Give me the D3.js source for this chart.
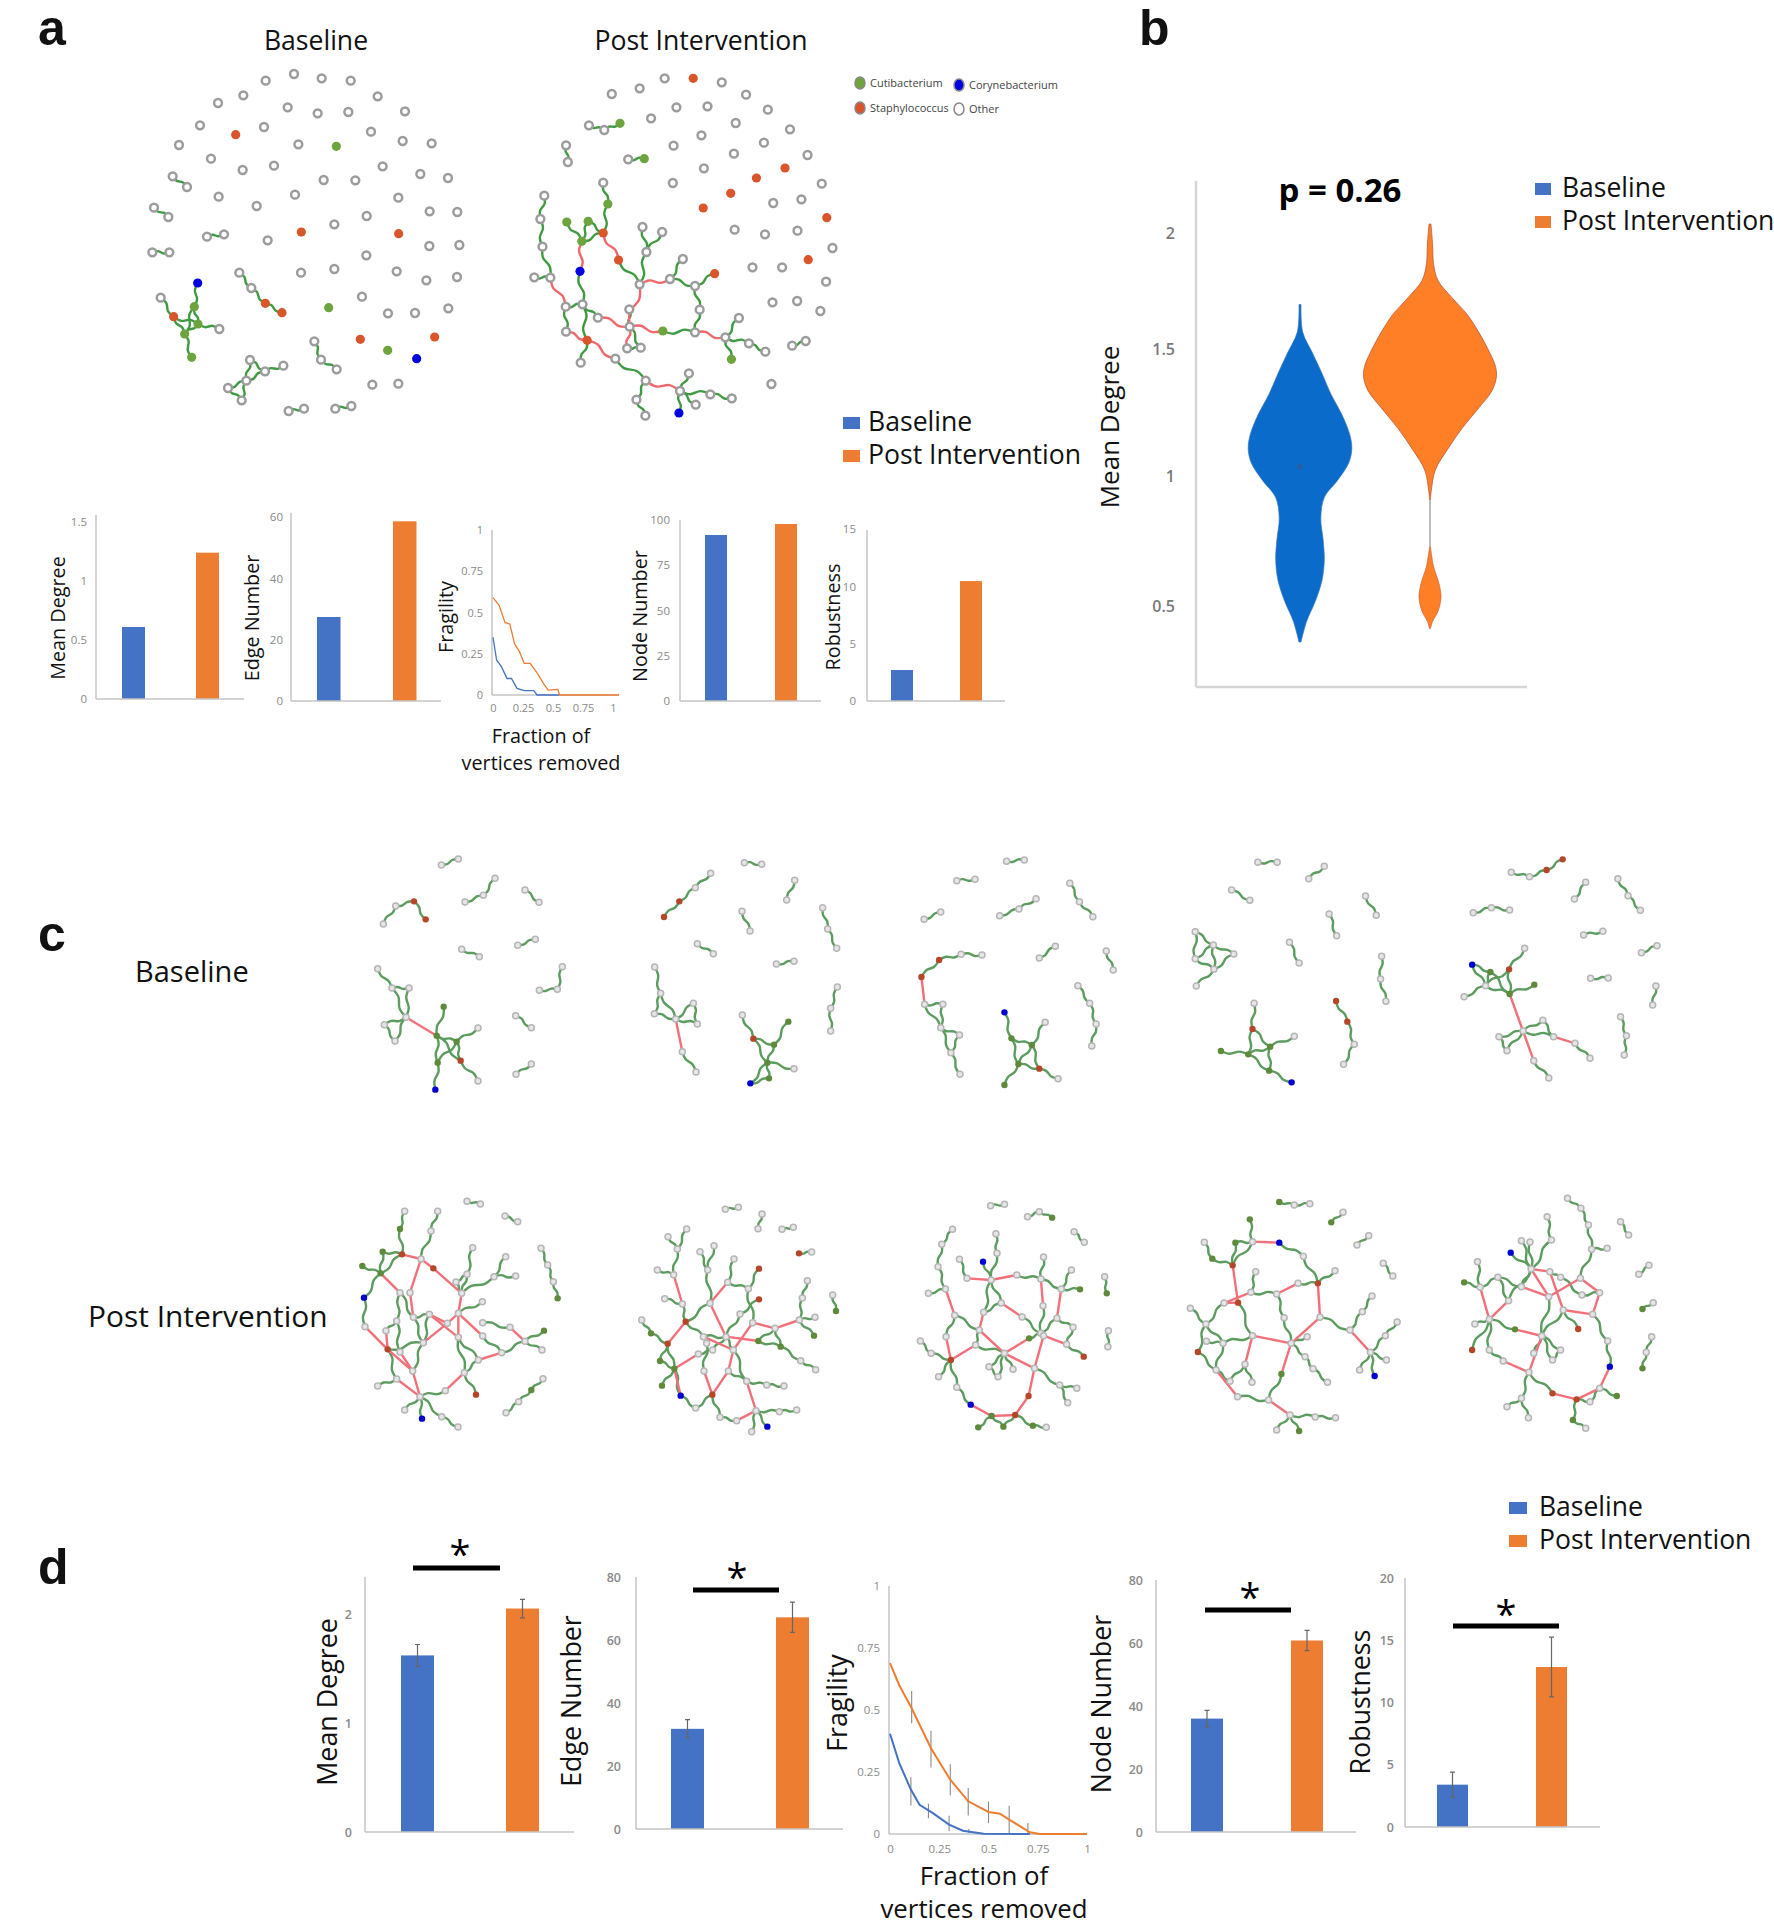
<!DOCTYPE html>
<html><head><meta charset="utf-8">
<script src="https://cdn.jsdelivr.net/npm/d3@7"></script>
<style>html,body{margin:0;background:#fff}svg{display:block}text{font-family:"Open Sans",sans-serif;fill:#111}</style>
</head><body><div id="chart"></div>
<script>
// ---------- DATA ----------
const seriesNames = ["Baseline","Post Intervention"];
const speciesNames = ["Cutibacterium","Corynebacterium","Staphylococcus","Other"];
// panel a bars
const aMeanDegree=[0.61,1.24], aEdgeNumber=[27.4,58.6], aNodeNumber=[91.7,97.8], aRobustness=[2.7,10.46];
const aMeanTicks=[0,0.5,1,1.5], aEdgeTicks=[0,20,40,60], aNodeTicks=[0,25,50,75,100], aRobustTicks=[0,5,10,15];
const fragTicks=[0,0.25,0.5,0.75,1];
const aFragBaseline=[[0,.35],[.03,.212],[.07,.172],[.117,.1],[.154,.1],[.2,.04],[.26,.026],[.34,.026],[.367,0],[.55,0]];
const aFragPost=[[0,.59],[.05,.545],[.10,.44],[.14,.43],[.18,.31],[.22,.263],[.26,.192],[.31,.192],[.37,.131],[.42,.07],[.46,.03],[.54,.034],[.555,0],[1.05,0]];
// panel b violins: [value, half width]
const violinTicks=[0.5,1,1.5,2];
const violinBaseline=[[1.692,1],[1.573,2.7],[1.485,12.4],[1.404,22],[1.322,31],[1.241,42],[1.16,50],[1.106,51.8],[1.052,48.7],[.984,37.6],[.918,24.3],[.838,20.8],[.759,23],[.68,24.3],[.6,22],[.521,15.5],[.442,6.6],[.363,1]];
const violinPostUpper=[[2.04,1],[1.945,2.7],[1.87,3.5],[1.796,8],[1.722,22],[1.647,37.6],[1.573,48.7],[1.485,59.8],[1.431,65.5],[1.39,66.4],[1.336,62],[1.268,48.7],[1.187,31.9],[1.106,17.7],[1.024,5.3],[.944,1.3],[.91,.5]];
const violinPostLower=[[.726,.5],[.654,3.5],[.587,9],[.535,11],[.481,8],[.442,2.6],[.415,.5]];
const violinMedian=1.037;
// panel d bars: mean, error
const dMeanDegree=[1.62,2.05], dMeanErr=[.1,.085];
const dEdgeNumber=[31.8,67.2], dEdgeErr=[2.9,4.8];
const dNodeNumber=[36,60.8], dNodeErr=[2.6,3.2];
const dRobustness=[3.4,12.85], dRobustErr=[1,2.4];
const dMeanTicks=[0,1,2], dEdgeTicks=[0,20,40,60,80], dNodeTicks=[0,20,40,60,80], dRobustTicks=[0,5,10,15,20];
const dFragBaseline=[[0,.404],[.047,.286],[.106,.179],[.15,.118],[.216,.085],[.3,.038],[.37,.013],[.475,.001],[.71,0]];
const dFragPost=[[0,.689],[.047,.6],[.11,.507],[.208,.346],[.306,.219],[.397,.132],[.5,.089],[.558,.082],[.605,.058],[.71,.007],[.76,0],[1,0]];
const dFragBaselineErr=[[.106,.115,.229],[.195,.064,.122],[.3,.011,.074],[.4,.004,.02]];
const dFragPostErr=[[.11,.447,.577],[.208,.268,.416],[.306,.155,.281],[.397,.075,.185],[.5,.044,.131],[.605,.004,.114],[.7,0,.044]];

// networks: "x,y" node readings, suffix r/g/b = genus; chains are consecutive edges
const a1Lone="407,122 492,102 575,115 662,122 340,166 264,189 743,169 473,202 563,220 655,216 825,214 210,256 402,261 723,275 147,315 505,313 818,303 905,310 243,356 338,390 432,377 758,379 871,402 954,414 581,420 676,421 266,470 380,498 495,464 805,473 899,514 982,516 710,528 613,553 413,601 898,618 988,615 709,646 513,698 613,687 800,694 889,721 981,711 696,770 774,820 855,819 955,805 727,1034 805,1031 317,284r 514,576r 806,581r 691,898r 914,891r 619,319g 596,803g 773,931g 860,956b".split(" ");
const a1Links=["128,409 171,441","72,503 115,531","231,590 282,583","67,637 118,637","328,698 364,744 406,790r 456,818r","553,904 573,959 620,988","476,1113 522,1106","616,1106 664,1098","92,773 131,830r 164,882g 185,952g","131,830 204,852g 268,867","203,729b 193,800g 204,852","193,800 164,882 204,852","360,960 405,994 460,977","360,960 349,1022 294,1044 335,1081 349,1022 405,994"];
const a1Bridges=[];

const a2Lone="405,115 565,127 633,164 335,145 257,162 438,202 525,199 694,209 367,235 604,249 756,268 508,286 683,308 430,317 599,341 805,345 515,385 428,429 845,431 709,489 788,478 601,569 686,583 777,572 875,624 651,682 734,682 857,725 707,787 776,783 841,813 704,1032 485,115r 742,384r 662,414r 590,460r 513,504r 859,533r 807,659r".split(" ");
const a2Links=["762,917 800,903","193,256 236,270 280,250g","129,316 134,366","303,358 348,356g","233,428 246,492g 233,579r","131,546g 173,604g 191,544g 233,579 173,604","276,660r 335,733","343,561 354,636 335,733","398,576 354,636","420,717 456,657","420,717 490,738 545,701r","490,738 503,809 490,877 400,873g","306,808 307,860","218,833 175,793 128,800","168,694b 175,793","40,712 85,713 63,620 57,537 68,467","128,800 129,875","175,793 188,901r 170,968","307,860 338,923 300,925","575,892 613,834","575,892 641,910 687,935","575,892 592,958g","267,956 352,1022 326,1079 351,1127","448,1053 473,1000","448,1053 445,1119b","448,1053 492,1094","448,1053 533,1063 593,1075"];
const a2Bridges=["173,604 168,694","233,579 276,660","335,733 420,717","400,873 307,860 335,733","307,860 218,833","85,713 128,800","129,875 188,901 267,956","307,860 300,925","490,877 575,892","352,1022 448,1053"];

const c1Links=["304,75 355,57","375,186 430,166 465,115","555,150 597,187","130,252 167,198 222,184r 257,238r","365,328 418,350","533,316 586,298","667,380 652,448 598,451","527,527 574,563","528,703 574,672","113,386 156,444 207,444 198,532 156,444","198,532 133,554 165,603 198,532","311,500g 290,587g 350,605g 414,564","290,587 293,668g 286,749b","290,587 362,662r 414,723","350,605 293,668","350,605 362,662"];
const c1Bridges=["198,532 290,587"];
const c2Links=["213,68 265,73","364,121 340,180","-28,231r 18,184r 66,143 112,100","206,214 230,273","448,203 463,267 490,325","72,311 120,341","309,372 362,364","-56,381 -38,460 -57,521 7,537 -38,460","7,537 60,490 72,552 7,537","27,635 68,696","207,525 240,596r 302,614g 345,545g","240,596 282,668g 362,686","302,614 282,668 287,715g 231,730b 282,668","492,441 472,505 472,573"];
const c2Bridges=["7,537 27,635"];
const c3Links=["311,64 344,60","218,122 252,118","157,238 188,216","298,227 334,207 366,176","429,130 447,185 472,230","265,345 226,343 185,360r 152,411r","158,493 192,493 188,563 158,493","188,563 223,585 207,638 188,563","207,638 224,703","372,354 402,319","497,333 510,390","444,437 466,490 478,552 470,618","307,517b 320,595g 358,615g 383,547","320,595 333,672g 358,615 372,686r 333,672 307,735g","372,686 407,716"];
const c3Bridges=["152,411 158,493"];
const c4Links=["780,67 816,67","875,116 904,79","731,150 765,181","981,168 1001,226","913,222 927,287","839,307 857,369","1011,349 1009,417 1019,484","663,275 697,315 663,356 663,275","697,315 735,342 698,388 697,315","663,356 698,388 665,438","926,483r 947,545r 960,613 940,673","773,490 770,567r 762,643g 803,620g 770,567","803,620 848,589","803,620 801,692g 762,643 711,633g","801,692 843,727b"];
const c4Bridges=[];
const c5Links=["1253,97 1287,110 1319,90r 1349,58r","1392,127 1371,177","1452,116 1471,167 1494,211","1182,218 1216,203 1250,210","1388,285 1424,274","1496,338 1525,317","1401,415 1434,414","1523,438 1517,495","1457,530 1468,587 1464,645","1180,374b 1214,396g 1205,437 1180,374","1214,396 1250,462g 1205,437 1165,470","1278,325 1249,388r 1250,462 1296,434g","1249,388 1205,437","1295,662 1323,714","1275,573 1230,590 1245,632 1275,573 1312,541 1332,590 1275,573","1372,610 1400,655"];
const c5Bridges=["1250,462 1275,573 1295,662","1332,590 1372,610"];

const p1Links=["381,64 421,72","495,108 533,125","603,205 623,255 640,305 653,355g","498,698 536,665 574,630g 609,596","194,94 180,147g 186,223r 128,215g 122,280g 186,223","67,258g 122,280 72,353b 75,440","293,94 273,153 243,237","398,203 381,283 348,306 365,340 381,283","497,230 462,290 527,288","462,290 365,340","355,400 427,365","180,338 220,412 268,403","180,338 170,423 138,452","428,428 510,442","612,452g 555,484 606,510","555,484 485,518 428,468","415,540 355,472 373,578 415,540","373,578 408,644r","170,423 180,516","143,508r 250,488 218,573","143,508 170,597 113,618","250,488 268,403","240,650 194,690","240,650 246,716b","240,650 305,710 354,741","240,650 316,632","220,412 250,488"];
const p1Bridges=["186,223 243,237 280,265r 365,340 355,400 322,430 250,488","243,237 210,338 220,412","122,280 180,338","268,403 355,472 355,400","355,400 428,468","510,442 555,484","485,518 415,540","373,578 316,632","75,440 143,508 138,452","180,516 218,573 240,650 170,597","143,508 218,573","322,430 268,403"];

const p2Links=["156,88 195,82","266,102 254,146","326,148 360,142","377,220r 415,216","478,345 488,393g","-16,170 12,207 1,284 -48,270","40,147 12,207","-26,356 27,372 37,425r","-95,420 -67,460g -17,491r -40,543g 3,566g -34,617g","-17,491 3,566 22,647b 67,684 117,644r 140,712 190,722","248,692 235,755","248,692 282,740b","248,692 318,695 370,690","80,215 103,270 110,370 37,425","122,197 103,270","182,237 163,307 225,326 257,266r","225,326 238,428","257,358r 200,402 158,470","402,302 387,354 378,420 425,412","378,420 422,467g","305,445 255,483g 322,500g 305,445","322,500 382,542 427,569","158,470 180,510 220,604 280,615 332,618","158,470 90,470 37,425","118,510 158,470","75,522 118,510","92,573 100,490","165,573 220,604"];
const p2Bridges=["1,284 27,372","37,425 -17,491","3,566 22,647","3,566 75,522","117,644 92,573","117,644 165,573 180,510","190,722 248,692 220,604","110,370 163,307","110,370 158,470 255,483","238,428 180,510","238,428 305,445 378,420","90,470 180,510"];

const p3Links=["281,77 307,73","350,110 372,95 396,113g","437,155 456,187","494,290 498,340g","501,452 500,500","210,148 190,193 183,260 197,327 165,340","223,238 237,295","267,245b 282,300 293,220 291,161","330,285 375,297 380,231","375,297 413,327 432,270","413,327 448,328g","282,300 301,369","282,300 268,397 301,369","340,411 375,460 379,377","405,415 375,460","405,415 435,442 423,493 455,530r","214,406 198,470","214,406 260,450","150,483 170,520 207,540r 184,590","207,540 218,622 244,674b","260,450 253,495 307,520","307,520 278,560 295,590 307,520 323,568","353,475g 375,460","363,565 410,615 442,625","410,615 425,668","283,708g 258,742g","283,708 305,740g 327,705r","327,705 360,737g 385,742"];
const p3Bridges=["197,327 214,406","237,295 282,300 330,285","375,297 379,377","413,327 405,415","198,470 207,540 253,495","268,397 260,450 307,520 363,565 380,467 423,493","301,369 340,411","307,520 353,475","363,565 352,648r 327,705 283,708 244,674"];

const p4Links=["820,66g 848,75 877,71","917,127g 939,97","965,195 987,167","1014,250 1032,288","765,118g 770,185 738,188g 733,256r 695,236g 680,187","770,185 733,256","820,188b 865,229 892,310r 924,272","855,310 892,310","776,275 767,337 815,342 829,413 842,490","743,368r 770,467","717,369 683,432 654,385","683,432 668,516r 702,570 715,490 684,484","683,432 715,490 770,467","756,553 728,604 702,570","756,553 769,607","896,412 952,450 975,395 993,348","990,517 1018,467 1040,426","990,517 1020,540","990,517 970,570","990,517 998,588b","842,490 872,470","842,490 868,530 883,566 910,607","824,582g 800,660 742,650","840,705 815,750","840,705 857,753g","840,705 887,711 925,713"];
const p4Bridges=["770,185 820,188","733,256 743,368 717,369 767,337","815,342 855,310","770,467 842,490 824,582","770,467 756,553","892,310 896,412 842,490","952,450 990,517","702,570 742,650","800,660 840,705"];

const p5Links=["1358,55 1383,85 1397,135 1403,208 1382,295","1432,205 1403,208","1457,125 1472,165","1491,283 1510,256","1498,387g 1518,368","1515,470 1505,517 1498,565g","1320,110 1328,180 1290,267","1252,218b 1290,267 1272,182","1288,186 1290,267 1272,320","1325,275 1345,292 1385,345 1418,338","1190,245 1195,322 1165,307g","1195,322 1228,292 1272,320","1248,362 1228,292","1290,267 1248,362","1212,418 1185,432","1212,418 1260,448g","1212,418 1180,510r","1212,418 1212,510 1238,543","1310,468 1323,350","1310,468 1350,390 1378,447r","1310,468 1295,520","1310,468 1345,510 1330,540 1310,468","1405,403 1433,483 1437,560b","1286,577 1272,655 1245,680","1272,655 1285,713","1418,625 1450,648g","1375,658r 1400,665 1418,625","1375,658 1368,720g 1392,745","1330,640r 1286,577"];
const p5Bridges=["1290,267 1325,275 1350,390 1405,403 1418,338 1382,295 1323,350 1290,267","1272,320 1323,350","1195,322 1212,418 1248,362","1260,448 1310,468 1286,577 1238,543","1437,560 1418,625 1375,658 1330,640"];

// ---------- LAYOUT ----------
const W=1774,H=1926;
const blue="#4472c4", orange="#ed7d31";
const svg=d3.select("#chart").append("svg").attr("width",W).attr("height",H).attr("viewBox",[0,0,W,H]);
const defs=svg.append("defs");
defs.append("filter").attr("id","soft").attr("x","-5%").attr("y","-5%").attr("width","110%").attr("height","110%").append("feGaussianBlur").attr("stdDeviation",.6);
defs.append("filter").attr("id","soft2").attr("x","-5%").attr("y","-5%").attr("width","110%").attr("height","110%").append("feGaussianBlur").attr("stdDeviation",.75);

function text(x,y,s,size,o={}){
  const t=svg.append("text").attr("x",x).attr("y",y).attr("font-size",size).text(s);
  if(o.anchor)t.attr("text-anchor",o.anchor);
  if(o.weight)t.attr("font-weight",o.weight);
  if(o.fill)t.style("fill",o.fill);
  if(o.family)t.style("font-family",o.family);
  return t;
}
function vtext(x,y,s,size){
  return svg.append("text").attr("transform",`translate(${x},${y}) rotate(-90)`).attr("text-anchor","middle")
    .attr("dominant-baseline","central").attr("font-size",size).text(s);
}
function axisLine(x1,y1,x2,y2,c="#c4c4c4",w=1.5){
  svg.append("line").attr("x1",x1).attr("y1",y1).attr("x2",x2).attr("y2",y2).attr("stroke",c).attr("stroke-width",w);
}
function styleAxis(g,size,fill,weight){
  g.select(".domain").remove();
  g.selectAll("text").attr("font-size",size).attr("font-family",'"Open Sans",sans-serif').style("fill",fill).attr("font-weight",weight||400);
}

// --- networks
const nodeStyles={
  big:{link:"#3f9a42",bridge:"#f0686c",lw:2.4,r:3.9,rc:4.6,ring:"#9c9c9c",rw:2.5,o:"#fff",r_:"#d9542b",g:"#6ea43c",b:"#0000e0",k:.07,filter:"url(#soft)"},
  small:{link:"#5b9c5e",bridge:"#f2707a",lw:2.4,r:3,rc:3.2,ring:"#b6b6b6",rw:1.5,o:"#e6e6e6",r_:"#b4472a",g:"#5f8a3a",b:"#0000d0",k:.06,filter:"url(#soft2)"}
};
function drawNet(lone,links,bridges,ox,oy,cropW,cropH,domW,style,straight){
  const sx=d3.scaleLinear([0,domW],[ox,ox+cropW]), sy=d3.scaleLinear([0,cropH*3],[oy,oy+cropH]);
  const st=nodeStyles[style], nodes=new Map(), edges=[];
  const tok=s=>{const m=s.match(/(-?\d+),(-?\d+)([rgb]?)/),k=m[1]+","+m[2];
    const n=nodes.get(k)||{x:+m[1],y:+m[2],t:"o"}; if(m[3])n.t=m[3]; nodes.set(k,n); return n;};
  lone.forEach(tok);
  const add=(arr,kind)=>arr.forEach(ch=>{const ts=ch.split(" ").map(tok);
    d3.pairs(ts).forEach(([a,b])=>edges.push({a,b,kind}));});
  add(links,"link"); add(bridges,"bridge");
  const line=d3.line().curve(d3.curveCatmullRom.alpha(.5));
  const path=e=>{
    const x1=sx(e.a.x),y1=sy(e.a.y),x2=sx(e.b.x),y2=sy(e.b.y),dx=x2-x1,dy=y2-y1;
    if(e.kind==="bridge"&&straight) return line([[x1,y1],[x2,y2]]);
    const sgn=((Math.abs(e.a.x)+Math.abs(e.b.y))%2)?1:-1, k=st.k*sgn;
    return line([[x1,y1],[x1+dx/3-dy*k,y1+dy/3+dx*k],[x1+2*dx/3+dy*k,y1+2*dy/3-dx*k],[x2,y2]]);
  };
  const g=svg.append("g").attr("filter",st.filter);
  g.selectAll("path").data(edges).join("path").attr("d",path).attr("fill","none")
    .attr("stroke",d=>d.kind==="bridge"?st.bridge:st.link).attr("stroke-width",st.lw);
  g.selectAll("circle").data([...nodes.values()]).join("circle").attr("cx",d=>sx(d.x)).attr("cy",d=>sy(d.y)).attr("r",d=>d.t==="o"?st.r:st.rc)
    .attr("fill",d=>({o:st.o,r:st.r_,g:st.g,b:st.b})[d.t]).attr("stroke",d=>d.t==="o"?st.ring:"none").attr("stroke-width",st.rw);
}
drawNet(a1Lone,a1Links,a1Bridges,130,40,400,400,1200,"big",false);
drawNet(a2Lone,a2Links,a2Bridges,520,40,560,400,1568,"big",false);
drawNet([],c1Links,c1Bridges,340,840,500,280,1500,"small",true);
drawNet([],c2Links,c2Bridges,340+1000/3,840,500,280,1500,"small",true);
drawNet([],c3Links,c3Bridges,840,840,840,280,1568,"small",true);
drawNet([],c4Links,c4Bridges,840,840,840,280,1568,"small",true);
drawNet([],c5Links,c5Bridges,840,840,840,280,1568,"small",true);
drawNet([],p1Links,p1Bridges,340,1180,500,270,1500,"small",true);
drawNet([],p2Links,p2Bridges,340+1000/3,1180,500,270,1500,"small",true);
drawNet([],p3Links,p3Bridges,840,1180,840,270,1568,"small",true);
drawNet([],p4Links,p4Bridges,840,1180,840,270,1568,"small",true);
drawNet([],p5Links,p5Bridges,840,1180,840,270,1568,"small",true);

// --- network legend
const legendSp=[[860,83,"#6ea43c"],[959,85,"#0000e0"],[860,108,"#d9542b"],[959,109,"#fff"]];
legendSp.forEach((d,i)=>{
  svg.append("ellipse").attr("cx",d[0]).attr("cy",d[1]).attr("rx",5).attr("ry",6).attr("fill",d[2]).attr("stroke","#888").attr("stroke-width",1.5);
  text(d[0]+10,d[1]+4,speciesNames[i],11,{fill:"#444"});
});

// --- legends
function legend(x,y1,y2,tx,size,rw,rh){
  [y1,y2].forEach((y,i)=>{
    svg.append("rect").attr("x",x).attr("y",y-rh).attr("width",rw).attr("height",rh).attr("fill",i?orange:blue);
    text(tx,y+2,seriesNames[i],size);
  });
}
legend(843,429,462,868,26.6,17,12);
legend(1535,195,228,1562,26.5,16,12);
legend(1509,1514,1547,1539,26.5,18,12);

// --- titles and letters
text(316,50,"Baseline",26.6,{anchor:"middle"});
text(701,50,"Post Intervention",26.6,{anchor:"middle"});
const letterFont='"Liberation Sans",sans-serif';
text(38,45,"a",50,{weight:700,family:letterFont});
text(1139,45,"b",50,{weight:700,family:letterFont});
text(38,951,"c",50,{weight:700,family:letterFont});
text(38,1584,"d",50,{weight:700,family:letterFont});
text(135,982,"Baseline",29);
text(88,1327,"Post Intervention",29.9);

// --- bar charts
function bars(cfg){
  const y=d3.scaleLinear([0,cfg.tickMax],[cfg.base,cfg.tickTop]);
  const g=svg.append("g");
  g.selectAll("rect").data(cfg.values).join("rect").attr("x",(d,i)=>cfg.bx[i]).attr("width",cfg.bw)
    .attr("y",d=>y(d)).attr("height",d=>cfg.base-y(d)).attr("fill",(d,i)=>i?orange:blue);
  if(cfg.err) g.selectAll("path").data(cfg.values).join("path").attr("fill","none").attr("stroke","#666").attr("stroke-width",1.2)
    .attr("d",(d,i)=>{const c=cfg.bx[i]+cfg.bw/2,e=cfg.err[i];return `M${c-2.5},${y(d+e)}H${c+2.5}M${c},${y(d+e)}V${y(d-e)}M${c-2.5},${y(d-e)}H${c+2.5}`;});
  axisLine(cfg.ax,cfg.top,cfg.ax,cfg.base);
  axisLine(cfg.ax,cfg.base,cfg.xEnd,cfg.base);
  const ax=svg.append("g").attr("transform",`translate(${cfg.ax},0)`)
    .call(d3.axisLeft(y).tickValues(cfg.ticks).tickSize(0).tickPadding(cfg.pad).tickFormat(d=>d));
  styleAxis(ax,cfg.fs,"#8a8a8a",cfg.fw);
  vtext(cfg.lx,cfg.ly,cfg.label,cfg.ls);
  if(cfg.sig){
    svg.append("rect").attr("x",cfg.sig[0]).attr("y",cfg.sig[2]-2.5).attr("width",cfg.sig[1]-cfg.sig[0]).attr("height",5).attr("fill","#000");
    text(cfg.star[0],cfg.star[1]+20,"*",38,{anchor:"middle",fill:"#000"});
  }
}
const bfs=11.5;
bars({values:aMeanDegree,ticks:aMeanTicks,tickMax:1.5,base:699,tickTop:522,top:515,ax:96,xEnd:244,bx:[122,196],bw:23,pad:9,fs:bfs,label:"Mean Degree",lx:57,ly:618,ls:19.8});
bars({values:aEdgeNumber,ticks:aEdgeTicks,tickMax:60,base:701,tickTop:517,top:513,ax:291,xEnd:441,bx:[317,393],bw:23.5,pad:8,fs:bfs,label:"Edge Number",lx:251,ly:618,ls:19.8});
bars({values:aNodeNumber,ticks:aNodeTicks,tickMax:100,base:701,tickTop:520,top:520,ax:680,xEnd:821,bx:[705,775],bw:22,pad:10,fs:bfs,label:"Node Number",lx:639,ly:616,ls:19.8});
bars({values:aRobustness,ticks:aRobustTicks,tickMax:15,base:701,tickTop:529,top:530,ax:867,xEnd:1005,bx:[891,960],bw:22,pad:11,fs:bfs,label:"Robustness",lx:832,ly:617,ls:19.8});

const dfs=12.5;
bars({values:dMeanDegree,err:dMeanErr,ticks:dMeanTicks,tickMax:2,base:1832,tickTop:1614,top:1577,ax:365,xEnd:574,bx:[401,506],bw:33,pad:13,fs:dfs,fw:600,label:"Mean Degree",lx:326,ly:1702,ls:26.8,sig:[413,500,1568],star:[460,1548]});
bars({values:dEdgeNumber,err:dEdgeErr,ticks:dEdgeTicks,tickMax:80,base:1829,tickTop:1577,top:1577,ax:636,xEnd:843,bx:[671,776],bw:33,pad:15,fs:dfs,fw:600,label:"Edge Number",lx:570,ly:1701,ls:26.8,sig:[693,779,1590],star:[737,1571]});
bars({values:dNodeNumber,err:dNodeErr,ticks:dNodeTicks,tickMax:80,base:1832,tickTop:1580,top:1580,ax:1156,xEnd:1356,bx:[1191,1291],bw:32,pad:13,fs:dfs,fw:600,label:"Node Number",lx:1100,ly:1704,ls:26.8,sig:[1205,1291,1610],star:[1250,1591]});
bars({values:dRobustness,err:dRobustErr,ticks:dRobustTicks,tickMax:20,base:1827,tickTop:1578,top:1578,ax:1405,xEnd:1600,bx:[1437,1536],bw:31,pad:11,fs:dfs,fw:600,label:"Robustness",lx:1359,ly:1702,ls:26.8,sig:[1453,1559,1626],star:[1506,1608]});

// --- fragility line charts
function frag(cfg){
  const x=d3.scaleLinear([0,1],[cfg.x0,cfg.x1]), y=d3.scaleLinear([0,1],[cfg.y0,cfg.y1]);
  axisLine(cfg.x0-1,cfg.y1,cfg.x0-1,cfg.y0);
  axisLine(cfg.x0-1,cfg.y0,cfg.xEnd,cfg.y0);
  const line=d3.line().x(d=>x(d[0])).y(d=>y(d[1]));
  (cfg.errs||[]).forEach(es=>svg.append("g").selectAll("line").data(es).join("line")
    .attr("x1",d=>x(d[0])).attr("x2",d=>x(d[0])).attr("y1",d=>y(d[1])).attr("y2",d=>y(d[2])).attr("stroke","#8a8a8a").attr("stroke-width",1.1));
  cfg.lines.forEach((l,i)=>svg.append("path").attr("d",line(l)).attr("fill","none").attr("stroke",i?orange:blue).attr("stroke-width",cfg.lw));
  const ay=svg.append("g").attr("transform",`translate(${cfg.x0-1},0)`).call(d3.axisLeft(y).tickValues(fragTicks).tickSize(0).tickPadding(cfg.padY).tickFormat(d=>d));
  styleAxis(ay,cfg.fs,"#8a8a8a");
  const ax=svg.append("g").attr("transform",`translate(0,${cfg.y0})`).call(d3.axisBottom(x).tickValues(fragTicks).tickSize(0).tickPadding(cfg.padX).tickFormat(d=>d));
  styleAxis(ax,cfg.fs,"#8a8a8a");
  vtext(cfg.lx,cfg.ly,"Fragility",cfg.ls);
  text(cfg.tx,cfg.t1,"Fraction of",cfg.ts,{anchor:"middle"});
  text(cfg.tx,cfg.t2,"vertices removed",cfg.ts,{anchor:"middle"});
}
frag({x0:493,x1:613,xEnd:619,y0:695,y1:530,lines:[aFragBaseline,aFragPost],lw:1.3,padY:9,padX:9,fs:11,lx:445,ly:617,ls:19.8,tx:541,t1:743,t2:770,ts:19.8});
frag({x0:890,x1:1087,xEnd:1087,y0:1834,y1:1586,lines:[dFragBaseline,dFragPost],errs:[dFragBaselineErr,dFragPostErr],lw:2,padY:9,padX:11,fs:11.5,lx:836,ly:1703,ls:26.8,tx:984,t1:1885,t2:1918,ts:25.8});

// --- violin panel
const vy=d3.scaleLinear([.5,1,1.5,2],[606.3,476.1,349,233.3]);
const vw=d3.scaleLinear([0,100],[0,100]);
function violin(cx,data,fill,stroke){
  const area=d3.area().x0(d=>cx-vw(d[1])).x1(d=>cx+vw(d[1])).y(d=>vy(d[0])).curve(d3.curveCatmullRom);
  svg.append("path").attr("d",area(data)).attr("fill",fill).attr("stroke",stroke).attr("stroke-width",.7);
}
axisLine(1196,181,1196,687,"#d6d6d6",2.5);
axisLine(1196,687,1527,687,"#d6d6d6",2.5);
svg.append("line").attr("x1",1430).attr("x2",1430).attr("y1",vy(violinPostUpper.at(-1)[0])).attr("y2",vy(violinPostLower[0][0])).attr("stroke","#bdbdbd").attr("stroke-width",2);
violin(1300,violinBaseline,"#0a6bcb","#3a78b8");
violin(1430,violinPostUpper,"#ff7f27","#b0503a");
violin(1430,violinPostLower,"#ff7f27","#c8603a");
svg.append("circle").attr("cx",1300).attr("cy",vy(violinMedian)).attr("r",2.6).attr("fill","#2a5d9c");
const vAxis=svg.append("g").attr("transform","translate(1196,0)").call(d3.axisLeft(vy).tickValues(violinTicks).tickSize(0).tickPadding(21).tickFormat(d=>d));
styleAxis(vAxis,16,"#7a7a7a",600);
vtext(1109,427,"Mean Degree",26);
text(1340,202,"p = 0.26",33,{anchor:"middle",weight:700,fill:"#000"});
</script></body></html>
